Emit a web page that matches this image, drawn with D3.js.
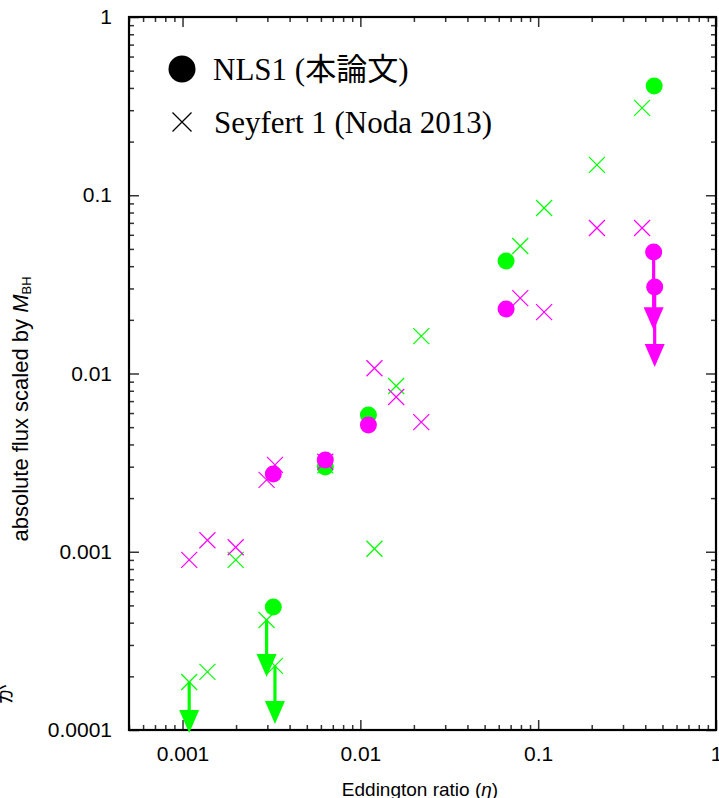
<!DOCTYPE html>
<html>
<head>
<meta charset="utf-8">
<script src="https://cdn.jsdelivr.net/npm/d3@7"></script>
<style>
  body { margin: 0; background: #fff; }
  svg { display: block; }
</style>
</head>
<body>
<div id="chart"></div>
<script>
// NLS1 (this work), two bands: green and magenta
var nls1GreenEta = [0.00324, 0.00635, 0.0111, 0.066, 0.449];
var nls1GreenFlux = [0.00049, 0.00299, 0.00585, 0.0428, 0.41];
var nls1MagentaEta = [0.00324, 0.00635, 0.0111, 0.066, 0.446, 0.452];
var nls1MagentaFlux = [0.00273, 0.00327, 0.00514, 0.023, 0.048, 0.0306];

// Seyfert 1 (Noda 2013)
var seyEta = [0.00109, 0.00138, 0.00199, 0.00297, 0.00331, 0.00635, 0.012, 0.0159, 0.022, 0.0793, 0.108, 0.214, 0.384];
var seyGreenFlux = [0.000186, 0.000212, 0.0009, 0.000414, 0.000229, 0.00305, 0.00104, 0.00851, 0.0162, 0.0519, 0.0848, 0.148, 0.309];
var seyMagentaFlux = [0.0009, 0.00116, 0.00106, 0.00253, 0.00307, 0.0032, 0.0107, 0.00738, 0.00534, 0.0265, 0.0221, 0.0655, 0.0655];

// upper limits: [eta, from, to]
var greenLimits = [[0.00109, 0.000186, 0.0000962], [0.00297, 0.000414, 0.000198], [0.00331, 0.000229, 0.000108]];
var magentaLimits = [[0.446, 0.048, 0.0175], [0.452, 0.0306, 0.01087]];

var xMajor = [0.001, 0.01, 0.1, 1];
var xMajorLabels = ['0.001', '0.01', '0.1', '1'];
var yMajor = [0.0001, 0.001, 0.01, 0.1, 1];
var yMajorLabels = ['0.0001', '0.001', '0.01', '0.1', '1'];

var GREEN = '#00ff00';
var MAGENTA = '#ff00ff';

var width = 719, height = 798;
var plotL = 129, plotR = 716, plotT = 17, plotB = 730;

var svg = d3.select('#chart').append('svg')
    .attr('width', width)
    .attr('height', height);

var x = d3.scaleLog().domain([0.0005, 1]).range([plotL, plotR]);
var y = d3.scaleLog().domain([0.0001, 1]).range([plotB, plotT]);

function minorTicks(domain) {
    var out = [];
    var lo = Math.floor(Math.log10(domain[0])), hi = Math.ceil(Math.log10(domain[1]));
    for (var e = lo; e < hi; e++) {
        for (var m = 2; m <= 9; m++) {
            var v = m * Math.pow(10, e);
            if (v >= domain[0] && v <= domain[1]) out.push(v);
        }
    }
    return out;
}

var tickFont = '"Liberation Sans", Arial, Helvetica, sans-serif';

function styleAxis(g) {
    g.select('.domain').remove();
    g.selectAll('.tick line').attr('stroke', '#333').attr('stroke-width', 1.5);
    g.selectAll('.tick text').attr('font-family', tickFont).attr('font-size', 21).attr('fill', '#000');
}

// bottom
svg.append('g').attr('transform', 'translate(0,' + plotB + ')')
    .call(d3.axisBottom(x).tickValues(xMajor).tickSize(-10).tickPadding(16)
        .tickFormat(function (d, i) { return xMajorLabels[i]; }))
    .call(styleAxis);
svg.append('g').attr('transform', 'translate(0,' + plotB + ')')
    .call(d3.axisBottom(x).tickValues(minorTicks(x.domain())).tickSize(-5).tickFormat(''))
    .call(styleAxis);
// top
svg.append('g').attr('transform', 'translate(0,' + plotT + ')')
    .call(d3.axisTop(x).tickValues(xMajor).tickSize(-10).tickFormat(''))
    .call(styleAxis);
svg.append('g').attr('transform', 'translate(0,' + plotT + ')')
    .call(d3.axisTop(x).tickValues(minorTicks(x.domain())).tickSize(-5).tickFormat(''))
    .call(styleAxis);
// left
svg.append('g').attr('transform', 'translate(' + plotL + ',0)')
    .call(d3.axisLeft(y).tickValues(yMajor).tickSize(-10).tickPadding(17)
        .tickFormat(function (d, i) { return yMajorLabels[i]; }))
    .call(styleAxis);
svg.append('g').attr('transform', 'translate(' + plotL + ',0)')
    .call(d3.axisLeft(y).tickValues(minorTicks(y.domain())).tickSize(-5).tickFormat(''))
    .call(styleAxis);
// right
svg.append('g').attr('transform', 'translate(' + plotR + ',0)')
    .call(d3.axisRight(y).tickValues(yMajor).tickSize(-10).tickFormat(''))
    .call(styleAxis);
svg.append('g').attr('transform', 'translate(' + plotR + ',0)')
    .call(d3.axisRight(y).tickValues(minorTicks(y.domain())).tickSize(-5).tickFormat(''))
    .call(styleAxis);

svg.append('rect')
    .attr('x', plotL).attr('y', plotT)
    .attr('width', plotR - plotL).attr('height', plotB - plotT)
    .attr('fill', 'none').attr('stroke', '#000').attr('stroke-width', 2.2);

// axis titles
var xTitle = svg.append('text')
    .attr('x', 420).attr('y', 796)
    .attr('text-anchor', 'middle')
    .attr('font-family', tickFont).attr('font-size', 19);
xTitle.append('tspan').text('Eddington ratio (');
xTitle.append('tspan').attr('font-style', 'italic').text('η');
xTitle.append('tspan').text(')');

var yTitle = svg.append('text')
    .attr('transform', 'translate(28,' + 409 + ') rotate(-90)')
    .attr('text-anchor', 'middle')
    .attr('font-family', tickFont).attr('font-size', 22);
yTitle.append('tspan').text('absolute flux scaled by ');
yTitle.append('tspan').attr('font-style', 'italic').text('M');
yTitle.append('tspan').attr('font-size', 13).attr('dy', 3).text('BH');

// stray fragment at the left edge
svg.append('text')
    .attr('transform', 'translate(12,694) rotate(-90)')
    .attr('text-anchor', 'middle')
    .attr('font-family', '"Noto Sans CJK JP"').attr('font-size', 20)
    .text('が');

var plot = svg.append('g');

function drawCrosses(etas, fluxes, color) {
    var s = 8;
    var g = plot.append('g').attr('stroke', color).attr('stroke-width', 1.2);
    etas.forEach(function (e, i) {
        var cx = x(e), cy = y(fluxes[i]);
        g.append('line').attr('x1', cx - s).attr('y1', cy - s).attr('x2', cx + s).attr('y2', cy + s);
        g.append('line').attr('x1', cx - s).attr('y1', cy + s).attr('x2', cx + s).attr('y2', cy - s);
    });
}

function drawCircles(etas, fluxes, color) {
    plot.append('g').selectAll('circle')
        .data(etas)
        .enter().append('circle')
        .attr('cx', function (d) { return x(d); })
        .attr('cy', function (d, i) { return y(fluxes[i]); })
        .attr('r', 8.5)
        .attr('fill', color);
}

function drawLimits(limits, color) {
    var headH = 23, headW = 10;
    var g = plot.append('g');
    limits.forEach(function (l) {
        var cx = x(l[0]), y0 = y(l[1]), y1 = y(l[2]);
        g.append('line')
            .attr('x1', cx).attr('x2', cx)
            .attr('y1', y0).attr('y2', y1 - headH + 2)
            .attr('stroke', color).attr('stroke-width', 3.2);
        g.append('path')
            .attr('d', 'M' + (cx - headW) + ',' + (y1 - headH) + 'L' + (cx + headW) + ',' + (y1 - headH) + 'L' + cx + ',' + y1 + 'Z')
            .attr('fill', color);
    });
}

drawCrosses(seyEta, seyGreenFlux, GREEN);
drawCircles(nls1GreenEta, nls1GreenFlux, GREEN);
drawLimits(greenLimits, GREEN);
drawCrosses(seyEta, seyMagentaFlux, MAGENTA);
drawCircles(nls1MagentaEta, nls1MagentaFlux, MAGENTA);
drawLimits(magentaLimits, MAGENTA);

// legend
var legendFont = '"Liberation Serif", "Times New Roman", "Noto Sans CJK JP", serif';
svg.append('circle').attr('cx', 182).attr('cy', 69).attr('r', 13.5).attr('fill', '#000');
svg.append('text').attr('x', 213).attr('y', 80)
    .attr('font-family', legendFont).attr('font-size', 31)
    .text('NLS1 (本論文)');
var lc = 9.5;
svg.append('path')
    .attr('d', 'M' + (182 - lc) + ',' + (122 - lc) + 'L' + (182 + lc) + ',' + (122 + lc) +
        'M' + (182 - lc) + ',' + (122 + lc) + 'L' + (182 + lc) + ',' + (122 - lc))
    .attr('stroke', '#000').attr('stroke-width', 1.3);
svg.append('text').attr('x', 214).attr('y', 133)
    .attr('font-family', legendFont).attr('font-size', 31)
    .text('Seyfert 1 (Noda 2013)');
</script>
</body>
</html>
